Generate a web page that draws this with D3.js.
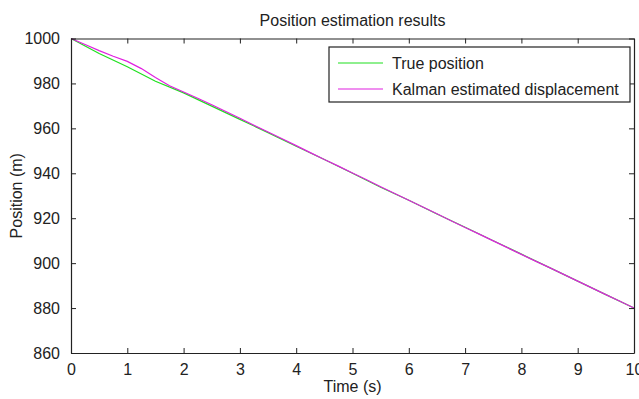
<!DOCTYPE html>
<html>
<head>
<meta charset="utf-8">
<script src="https://cdn.jsdelivr.net/npm/d3@7"></script>
<style>
  body { margin: 0; background: #fff; }
  svg text { font-family: "Liberation Sans", Arial, sans-serif; fill: #222; }
</style>
</head>
<body>
<div id="chart"></div>
<script>
// time axis samples (s)
const trueTime = [0, 0.5, 1, 1.5, 2, 2.5, 3, 3.5, 4, 4.5, 5, 5.5, 6, 6.5, 7, 7.5, 8, 8.5, 9, 9.5, 10];
const truePosition = [1000, 993.3, 987.4, 981.0, 975.8, 969.9, 964.0, 958.1, 952.0, 946.1, 940.0,
  933.8, 928.0, 921.9, 916.0, 910.0, 904.0, 898.0, 892.0, 886.0, 880.0];

const kalmanTime = [0, 0.25, 0.5, 0.75, 1, 1.25, 1.5, 1.75, 2, 2.25, 2.5, 2.75, 3, 3.25, 3.5, 3.75,
  4, 4.25, 4.5, 4.75, 5, 5.25, 5.5, 5.75, 6, 6.25, 6.5, 6.75, 7, 7.25, 7.5, 7.75, 8, 8.25, 8.5, 8.75,
  9, 9.25, 9.5, 9.75, 10];
const kalmanPosition = [1000, 997.3, 994.6, 992.1, 989.8, 986.6, 982.6, 979.0, 976.2, 973.4, 970.5,
  967.5, 964.5, 961.4, 958.4, 955.4, 952.3, 949.2, 946.1, 943.2, 940.1, 937.1, 934.0, 931.0, 928.0,
  925.0, 922.0, 918.9, 915.9, 912.9, 909.9, 906.9, 903.9, 900.9, 898.0, 895.0, 892.0, 889.0, 886.0,
  883.0, 880.0];

const xTicks = [0, 1, 2, 3, 4, 5, 6, 7, 8, 9, 10];
const yTicks = [860, 880, 900, 920, 940, 960, 980, 1000];
const seriesNames = ['True position', 'Kalman estimated displacement'];
const seriesColors = ['#1fe01f', '#e020e0'];

const width = 639, height = 399;
const margin = { top: 38.5, right: 5, bottom: 46, left: 71 };
const innerW = width - margin.left - margin.right;
const innerH = height - margin.top - margin.bottom;

const svg = d3.select('#chart').append('svg')
  .attr('width', width)
  .attr('height', height);

const x = d3.scaleLinear().domain([0, 10]).range([0, innerW]);
const y = d3.scaleLinear().domain([860, 1000]).range([innerH, 0]);

const g = svg.append('g')
  .attr('transform', 'translate(' + margin.left + ',' + margin.top + ')');

const line = d3.line().x(d => x(d[0])).y(d => y(d[1]));

g.append('path')
  .datum(trueTime.map((t, i) => [t, truePosition[i]]))
  .attr('fill', 'none')
  .attr('stroke', seriesColors[0])
  .attr('stroke-width', 1.2)
  .attr('d', line);

g.append('path')
  .datum(kalmanTime.map((t, i) => [t, kalmanPosition[i]]))
  .attr('fill', 'none')
  .attr('stroke', seriesColors[1])
  .attr('stroke-width', 1.2)
  .attr('d', line);

// axes with inward ticks, box style
const styleAxis = sel => {
  sel.selectAll('path').attr('stroke', '#222');
  sel.selectAll('line').attr('stroke', '#222');
};

g.append('g')
  .attr('transform', 'translate(0,' + innerH + ')')
  .call(d3.axisBottom(x).tickValues(xTicks).tickSize(-5).tickSizeOuter(0).tickPadding(11))
  .call(styleAxis)
  .call(a => a.selectAll('text').attr('font-size', 16));

g.append('g')
  .call(d3.axisLeft(y).tickValues(yTicks).tickFormat(d3.format('d')).tickSize(-5).tickSizeOuter(0).tickPadding(11))
  .call(styleAxis)
  .call(a => a.selectAll('text').attr('font-size', 16));

g.append('g')
  .call(d3.axisTop(x).tickValues(xTicks).tickSize(-5).tickSizeOuter(0).tickFormat(''))
  .call(styleAxis);

g.append('g')
  .attr('transform', 'translate(' + innerW + ',0)')
  .call(d3.axisRight(y).tickValues(yTicks).tickSize(-5).tickSizeOuter(0).tickFormat(''))
  .call(styleAxis);

g.selectAll('.domain').attr('stroke-width', 1.2);

// titles
svg.append('text')
  .attr('x', margin.left + innerW / 2)
  .attr('y', 26)
  .attr('text-anchor', 'middle')
  .attr('font-size', 16)
  .text('Position estimation results');

svg.append('text')
  .attr('x', margin.left + innerW / 2)
  .attr('y', 392)
  .attr('text-anchor', 'middle')
  .attr('font-size', 16)
  .text('Time (s)');

svg.append('text')
  .attr('transform', 'translate(22,' + (margin.top + innerH / 2) + ') rotate(-90)')
  .attr('text-anchor', 'middle')
  .attr('font-size', 16)
  .text('Position (m)');

// legend
const legend = svg.append('g').attr('transform', 'translate(329,47)');
legend.append('rect')
  .attr('width', 301)
  .attr('height', 55)
  .attr('fill', '#fff')
  .attr('stroke', '#222')
  .attr('stroke-width', 1.2);

seriesNames.forEach((name, i) => {
  const row = legend.append('g').attr('transform', 'translate(0,' + (16 + i * 26) + ')');
  row.append('line')
    .attr('x1', 9).attr('x2', 54)
    .attr('stroke', seriesColors[i])
    .attr('stroke-width', 1.2);
  row.append('text')
    .attr('x', 63)
    .attr('dy', '0.35em')
    .attr('font-size', 16)
    .text(name);
});
</script>
</body>
</html>
